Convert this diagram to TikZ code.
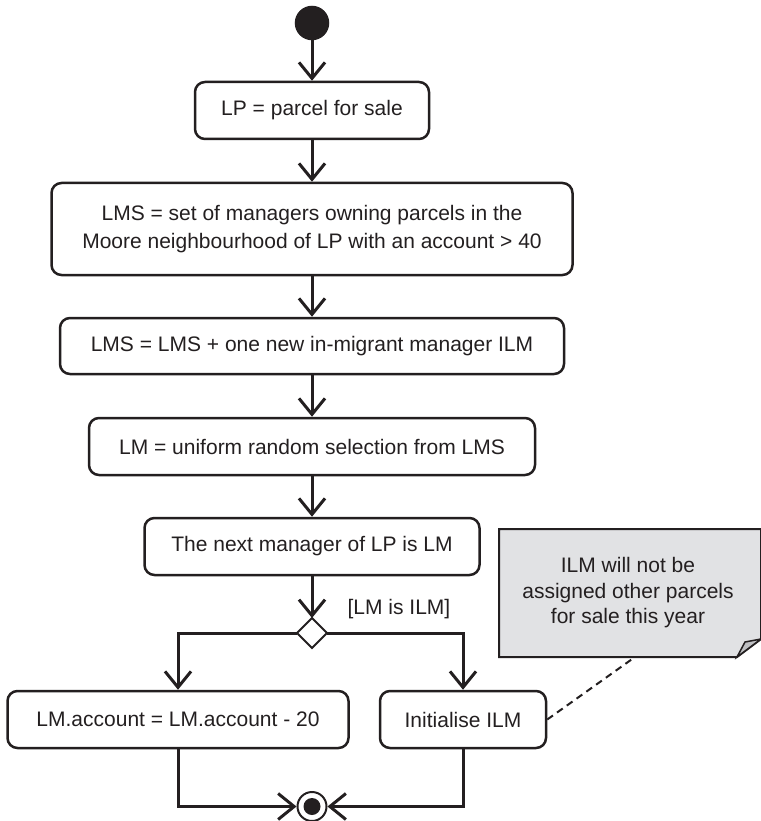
\documentclass[tikz,border=0pt]{standalone}
\usepackage{fontspec}
\setmainfont{Liberation Sans}
\usetikzlibrary{arrows.meta}
\definecolor{notegray}{RGB}{225,226,228}
\definecolor{foldgray}{RGB}{190,191,194}
\definecolor{inkc}{RGB}{35,31,32}

\begin{document}
\begin{tikzpicture}[x=1pt,y=-1pt,line width=2.5pt,draw=inkc,text=inkc,
        act/.style={draw,rounded corners=10pt,align=center,inner sep=0pt,
            font=\fontsize{21}{28}\selectfont},
        flow/.style={line width=3pt,-{Straight Barb[length=16pt,width=26pt,line width=3pt]}}]
        \useasboundingbox (0,0) rectangle (760,821);

        \node[draw,fill=inkc,circle,minimum size=32pt,inner sep=0pt] (start) at (312,23) {};
        \node[act,minimum width=234pt,minimum height=57pt] (lp) at (312,110.5) {LP = parcel for sale};
        \node[act,minimum width=521pt,minimum height=92pt] (lms) at (312,229) {LMS = set of managers owning parcels in the\\Moore neighbourhood of LP with an account > 40};
        \node[act,minimum width=504pt,minimum height=56pt] (ilm) at (312,346) {LMS = LMS + one new in-migrant manager ILM};
        \node[act,minimum width=446pt,minimum height=57pt] (lm) at (312,446.5) {LM = uniform random selection from LMS};
        \node[act,minimum width=335pt,minimum height=57pt] (next) at (312,546.5) {The next manager of LP is LM};
        \draw[line width=2pt,fill=white] (297,633) -- (312,618) -- (327,633) -- (312,648) -- cycle;
        \coordinate (decw) at (297,633);
        \coordinate (dece) at (327,633);
        \coordinate (dectop) at (312,618);
        \node[font=\fontsize{21}{28}\selectfont,anchor=west] (guard) at (343,609) {[LM is ILM]};
        \node[act,minimum width=341pt,minimum height=57pt] (acc) at (178,719.5) {LM.account = LM.account - 20};
        \node[act,minimum width=166pt,minimum height=57pt] (init) at (463,719.5) {Initialise ILM};
        \node[draw,circle,line width=2pt,minimum size=29pt,inner sep=0pt] (final) at (312,806.5) {};
        \fill[inkc] (final) circle (8.5pt);

        \draw[flow] (start) -- (lp);
        \draw[flow] (lp) -- (lms);
        \draw[flow] (lms) -- (ilm);
        \draw[flow] (ilm) -- (lm);
        \draw[flow] (lm) -- (next);
        \draw[flow] (next) -- (dectop);
        \draw[flow] (decw) -| (acc);
        \draw[flow] (dece) -| (init);
        \draw[flow] (acc) |- (final);
        \draw[flow] (init) |- (final);

        \draw[line width=2pt,fill=notegray] (499,529) -- (761,529) -- (761,639) -- (737,657) -- (499,657) -- cycle;
        \draw[line width=1.5pt,fill=foldgray] (737,657) -- (745,642) -- (761,639) -- cycle;
        \node[font=\fontsize{21}{25.5}\selectfont,align=center] (note) at (628,593) {ILM will not be\\assigned other parcels\\for sale this year};
        \coordinate (noteend) at (635,657);
        \draw[line width=2pt,dash pattern=on 7pt off 5pt] (init.east) -- (noteend);
\end{tikzpicture}
\end{document}
